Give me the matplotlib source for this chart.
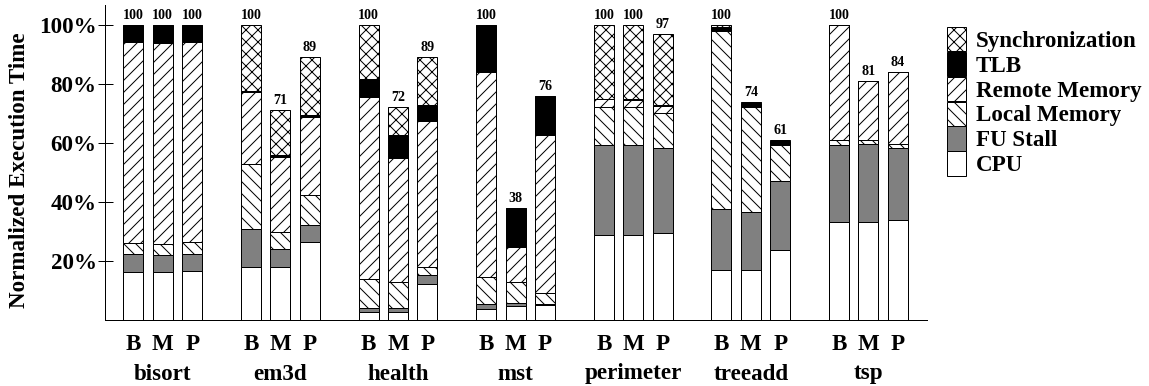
import matplotlib
matplotlib.use("Agg")
import matplotlib.pyplot as plt
from matplotlib.patches import Patch
import numpy as np

plt.rcParams['font.family'] = ['Liberation Serif', 'DejaVu Serif']
plt.rcParams['font.weight'] = 'bold'
plt.rcParams['hatch.linewidth'] = 1.0

benchmarks = ["bisort", "em3d", "health", "mst", "perimeter", "treeadd", "tsp"]
configs = ["B", "M", "P"]

# % of normalized execution time, bars ordered B,M,P per benchmark
cpu = [16.2, 16.2, 16.4, 17.9, 17.9, 26.3, 2.5, 2.5, 12.1, 3.4, 4.5, 4.8,
       28.6, 28.6, 29.4, 16.7, 16.7, 23.7, 33.1, 33.1, 33.7]
fu_stall = [6.0, 5.8, 6.0, 12.8, 6.1, 5.7, 1.3, 1.5, 3.1, 1.9, 1.2, 0.3,
            30.7, 30.7, 28.7, 20.8, 19.8, 23.2, 26.2, 26.4, 24.4]
local_mem = [3.7, 3.5, 3.8, 22.2, 5.7, 10.4, 9.8, 8.6, 2.7, 9.2, 7.1, 3.9,
             12.8, 13.0, 11.9, 60.5, 35.5, 12.5, 1.7, 1.5, 1.6]
remote_mem = [68.2, 68.5, 67.9, 24.2, 25.5, 26.2, 62.0, 42.4, 49.6, 69.7, 11.8, 53.7,
              2.7, 2.2, 2.5, 0.3, 0.2, 0.1, 39.0, 20.0, 24.3]
tlb = [5.9, 6.0, 5.9, 0.4, 0.8, 0.7, 6.0, 7.6, 5.5, 15.8, 13.4, 13.3,
       0.2, 0.5, 0.5, 1.0, 1.3, 1.0, 0.0, 0.0, 0.0]
sync = [0.0, 0.0, 0.0, 22.5, 15.0, 19.7, 18.4, 9.4, 16.0, 0.0, 0.0, 0.0,
        25.0, 25.0, 24.0, 0.7, 0.5, 0.5, 0.0, 0.0, 0.0]
totals = [100, 100, 100, 100, 71, 89, 100, 72, 89, 100, 38, 76,
          100, 100, 97, 100, 74, 61, 100, 81, 84]

segments = [
    ("CPU", cpu, "white", None),
    ("FU Stall", fu_stall, "#808080", None),
    ("Local Memory", local_mem, "white", "\\\\"),
    ("Remote Memory", remote_mem, "white", "//"),
    ("TLB", tlb, "black", None),
    ("Synchronization", sync, "white", "xx"),
]

W, H, DPI = 1149, 386, 72
fig = plt.figure(figsize=(W / DPI, H / DPI), dpi=DPI)
ax = fig.add_axes([105 / W, 1 - 319.5 / H, 822 / W, 314.5 / H])

x = np.array([g * 4 + j for g in range(len(benchmarks)) for j in range(3)])
bottom = np.zeros(len(x))
handles = []
for name, vals, color, hatch in segments:
    vals = np.array(vals)
    ax.bar(x, vals, width=0.68, bottom=bottom, color=color, edgecolor="black",
           linewidth=1.0, hatch=hatch)
    bottom += vals
    handles.append(Patch(facecolor=color, edgecolor="black", linewidth=1.0,
                         hatch=hatch, label=name))

for xi, t in zip(x, totals):
    ax.annotate(f"{t}", xy=(xi, t), xytext=(0, 3), textcoords="offset points",
                ha="center", va="bottom", fontsize=14, fontweight="bold")

ax.set_xlim(-0.963, 26.99)
ax.set_ylim(0, 106.8)
ax.set_yticks([20, 40, 60, 80, 100])
ax.set_yticklabels([f"{v}%" for v in [20, 40, 60, 80, 100]])
ax.tick_params(axis="y", direction="inout", length=15, width=1, labelsize=23, pad=1)
ax.set_xticks([])
for s in ["top", "right"]:
    ax.spines[s].set_visible(False)
ax.spines["left"].set_linewidth(1)
ax.spines["bottom"].set_linewidth(1)

# B/M/P and benchmark names under the bars
for xi, lab in zip(x, configs * len(benchmarks)):
    ax.annotate(lab, xy=(xi, 0), xycoords=("data", "axes fraction"),
                xytext=(0, -30), textcoords="offset points",
                ha="center", va="baseline", fontsize=23, fontweight="bold")
for g, name in enumerate(benchmarks):
    ax.annotate(name, xy=(g * 4 + 1, 0), xycoords=("data", "axes fraction"),
                xytext=(0, -60), textcoords="offset points",
                ha="center", va="baseline", fontsize=23, fontweight="bold")

fig.text(20 / W, 1 - 170 / H, "Normalized Execution Time", rotation=90,
         ha="center", va="center", fontsize=23, fontweight="bold")

fig.legend(handles=handles[::-1], loc="upper left",
           bbox_to_anchor=(946.7 / W, 1 - 26.7 / H), bbox_transform=fig.transFigure,
           frameon=False, fontsize=23, borderpad=0, borderaxespad=0,
           handlelength=0.84, handleheight=1.257, labelspacing=0,
           handletextpad=0.42)

fig.savefig("out.png", dpi=DPI)
